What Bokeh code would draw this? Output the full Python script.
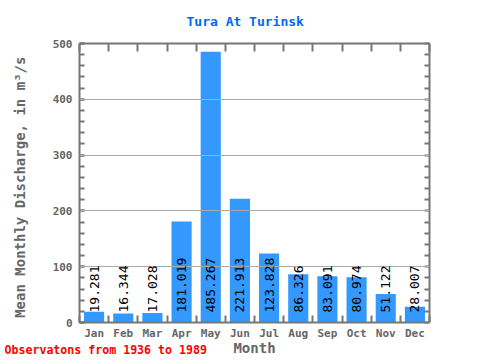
from bokeh.plotting import figure
from bokeh.models import (Range1d, LinearAxis, FixedTicker, SingleIntervalTicker,
                          Title, ColumnDataSource)
from bokeh.core.properties import value
from bokeh.embed import file_html
from bokeh.resources import INLINE

months = ["Jan", "Feb", "Mar", "Apr", "May", "Jun", "Jul", "Aug", "Sep", "Oct", "Nov", "Dec"]
discharge = [19.281, 16.344, 17.028, 181.019, 485.267, 221.913, 123.828,
             86.326, 83.091, 80.974, 51.122, 28.007]
title_text = "Tura At Turinsk"
x_label = "Month"
y_label = "Mean Monthly Discharge, in  m³/s"
footer_text = "Observatons from 1936 to 1989"

FONT = "DejaVu Sans Mono"
AXIS_COLOR = "#777777"
LABEL_COLOR = "#666666"

centers = [i + 0.5 for i in range(len(months))]
bounds = [i for i in range(len(months) + 1)]
y_minor = list(range(0, 501, 20))
source = ColumnDataSource(dict(x=centers, top=discharge,
                               label=["%.3f" % v for v in discharge]))

p = figure(width=480, height=360, output_backend="svg", toolbar_location=None,
           x_range=Range1d(0, 12), y_range=Range1d(0, 500),
           min_border_left=79, min_border_right=51, min_border_top=43,
           min_border_bottom=38)
p.outline_line_color = None
p.background_fill_color = "white"
p.border_fill_color = "white"

p.title.text = title_text
p.title.text_font = FONT
p.title.text_font_size = "13px"
p.title.text_font_style = "bold"
p.title.text_color = "#0066ff"
p.title.align = "left"
p.title.offset = 107
p.title.vertical_align = "top"
p.title.standoff = 26

p.vbar(x="x", top="top", width=0.69, bottom=0, source=source,
       fill_color="#3399ff", line_color=None)

p.text(x="x", y=0, text="label", source=source, angle=1.5708,
       text_align="left", text_baseline="middle", y_offset=-10,
       text_font=value(FONT), text_font_size="13px", text_color="black",
       level="annotation")

# grids
p.xgrid.visible = False
p.ygrid.ticker = SingleIntervalTicker(interval=100)
p.ygrid.grid_line_color = "#aaaaaa"
p.ygrid.grid_line_width = 1
p.ygrid.level = "guide"

def style_axis(ax):
    ax.axis_line_color = AXIS_COLOR
    ax.axis_line_width = 2
    ax.major_tick_line_color = AXIS_COLOR
    ax.minor_tick_line_color = AXIS_COLOR
    ax.major_tick_line_width = 2
    ax.minor_tick_line_width = 2
    ax.major_tick_out = 0
    ax.minor_tick_out = 0
    ax.major_label_text_font = FONT
    ax.major_label_text_font_size = "11px"
    ax.major_label_text_font_style = "bold"
    ax.major_label_text_color = LABEL_COLOR
    ax.axis_label_text_font = FONT
    ax.axis_label_text_font_size = "14px"
    ax.axis_label_text_font_style = "bold"
    ax.axis_label_text_color = LABEL_COLOR

# bottom axis
xb = p.xaxis[0]
xb.ticker = FixedTicker(ticks=centers, minor_ticks=bounds)
xb.major_label_overrides = {c: m for c, m in zip(centers, months)}
style_axis(xb)
xb.major_tick_in = 0
xb.minor_tick_in = 7
xb.major_label_standoff = 4
xb.axis_label = x_label
xb.axis_label_standoff = -3

# left axis
yl = p.yaxis[0]
yl.ticker = SingleIntervalTicker(interval=100, num_minor_ticks=5)
style_axis(yl)
yl.major_tick_in = 5
yl.minor_tick_in = 5
yl.major_label_standoff = 7
yl.axis_label = y_label
yl.axis_label_standoff = 22

# top axis (minor ticks only, no labels)
xt = LinearAxis(ticker=FixedTicker(ticks=[], minor_ticks=bounds))
style_axis(xt)
xt.major_tick_in = 0
xt.minor_tick_in = 8
xt.major_label_standoff = 0
p.add_layout(xt, "above")

# right axis (minor ticks only, no labels)
yr = LinearAxis(ticker=FixedTicker(ticks=[], minor_ticks=y_minor))
style_axis(yr)
yr.major_tick_in = 0
yr.minor_tick_in = 5
yr.major_label_standoff = 0
p.add_layout(yr, "right")

footer = Title(text=footer_text, align="left", offset=-75, vertical_align="top",
               standoff=-32, text_font=FONT, text_font_size="11.6px",
               text_font_style="bold", text_color="red")
p.add_layout(footer, "below")

open("out.html", "w").write(file_html(p, INLINE))
